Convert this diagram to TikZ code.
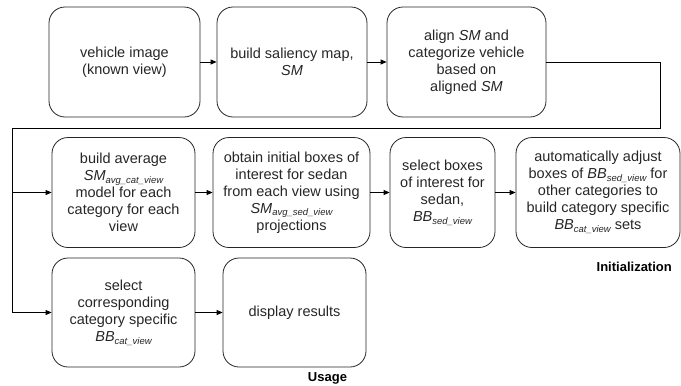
\documentclass[tikz,border=0pt]{standalone}
\usepackage{fontspec}
\setmainfont{Liberation Sans}
\usetikzlibrary{arrows.meta,positioning}
\newcommand{\sbs}[2]{\textit{#1}\raisebox{-0.35ex}{\fontsize{9.5}{9.5}\selectfont\itshape #2}}
\tikzset{
  box/.style={draw=black!85, line width=0.8pt, rounded corners=16pt, align=center,
    font=\fontsize{14.5}{17}\selectfont, text=black!85, inner sep=0pt},
  conn/.style={line width=0.8pt, -{Triangle[length=6pt,width=5pt]}},
  wire/.style={line width=0.8pt},
  lbl/.style={font=\fontsize{13}{15}\selectfont\bfseries, inner sep=0pt}
}
\begin{document}
\begin{tikzpicture}[x=1pt,y=-1pt]
\useasboundingbox (0,0) rectangle (681,386);
% row 1
\node[box, minimum width=151pt, minimum height=110pt] (b1) at (124.5,62) {vehicle image\\(known view)};
\node[box, minimum width=150pt, minimum height=110pt] (b2) at (292,62) {build saliency map,\\\textit{SM}};
\node[box, minimum width=159pt, minimum height=110pt] (b3) at (466.5,62) {align \textit{SM} and\\categorize vehicle\\based on\\aligned \textit{SM}};
% row 2
\node[box, minimum width=143pt, minimum height=110pt] (b4) at (123.5,192.5) {build average\\\sbs{SM}{avg\_cat\_view}\\model for each\\category for each\\view};
\node[box, minimum width=157pt, minimum height=110pt] (b5) at (291.5,192.5) {obtain initial boxes of\\interest for sedan\\from each view using\\\sbs{SM}{avg\_sed\_view}\\projections};
\node[box, minimum width=105pt, minimum height=110pt] (b6) at (442.5,192.5) {select boxes\\of interest for\\sedan,\\\sbs{BB}{sed\_view}};
\node[box, minimum width=164pt, minimum height=110pt] (b7) at (598,192.5) {automatically adjust\\boxes of \sbs{BB}{sed\_view} for\\other categories to\\build category specific\\\sbs{BB}{cat\_view} sets};
% row 3
\node[box, minimum width=143pt, minimum height=109pt] (b8) at (123.5,312.5) {select\\corresponding\\category specific\\\sbs{BB}{cat\_view}};
\node[box, minimum width=143pt, minimum height=109pt] (b9) at (294.5,312.5) {display results};
% labels
\node[lbl, anchor=east] (init) at (672,267) {Initialization};
\node[lbl] (usage) at (327.5,378) {Usage};
% connectors
\coordinate (r1) at (660,62);
\coordinate (r2) at (660,128);
\coordinate (l1) at (12,128);
\coordinate (l2) at (12,192.5);
\coordinate (l3) at (12,312.5);
\draw[conn] (b1) -- (b2);
\draw[conn] (b2) -- (b3);
\draw[wire] (b3.east) -- (r1) -- (r2) -- (l1) -- (l3);
\draw[conn] (l2) -- (b4.west);
\draw[conn] (l3) -- (b8.west);
\draw[conn] (b4) -- (b5);
\draw[conn] (b5) -- (b6);
\draw[conn] (b6) -- (b7);
\draw[conn] (b8) -- (b9);
\end{tikzpicture}
\end{document}
